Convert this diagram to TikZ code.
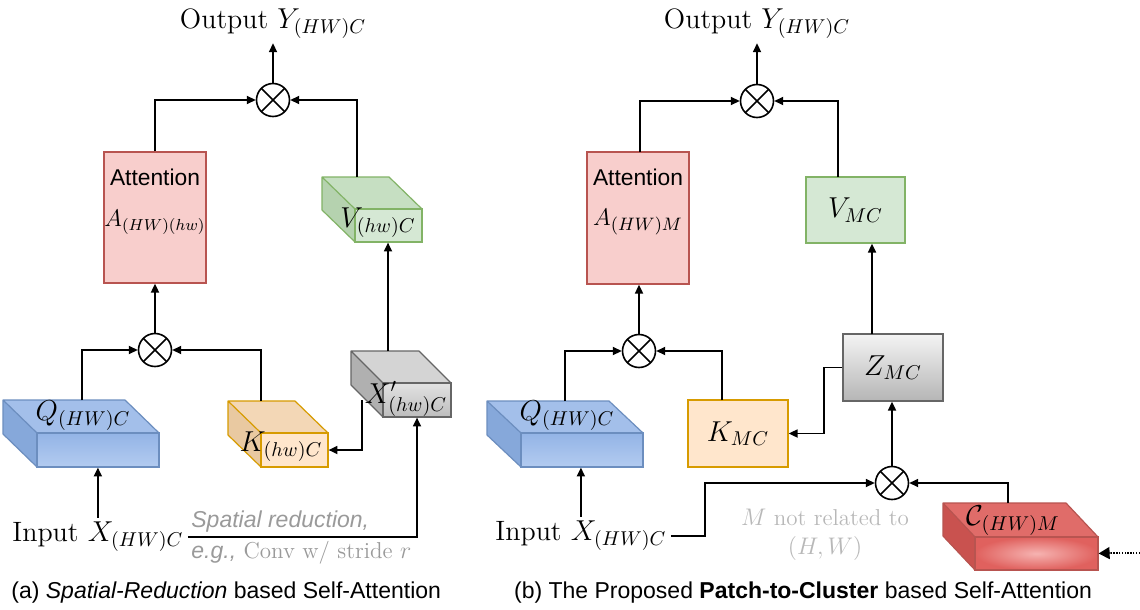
\documentclass[tikz,border=0pt]{standalone}
\usepackage{fontspec}
\newfontfamily\hv{Liberation Sans}
\usetikzlibrary{arrows.meta,fit,calc}

\definecolor{attF}{HTML}{F8CECC}
\definecolor{attL}{HTML}{B85450}
\definecolor{grnF}{HTML}{D5E8D4}
\definecolor{grnT}{HTML}{C6DFC2}
\definecolor{grnS}{HTML}{B5D2AF}
\definecolor{grnL}{HTML}{82B366}
\definecolor{orgF}{HTML}{FFE6CC}
\definecolor{orgT}{HTML}{F3D7B6}
\definecolor{orgS}{HTML}{E9C9A1}
\definecolor{orgL}{HTML}{D79B00}
\definecolor{bluT}{HTML}{A3BFEA}
\definecolor{bluS}{HTML}{86A8DA}
\definecolor{bluA}{HTML}{93B4E6}
\definecolor{bluB}{HTML}{B3CBF0}
\definecolor{bluL}{HTML}{6C8EBF}
\definecolor{gryT}{HTML}{D4D4D4}
\definecolor{gryS}{HTML}{B0B0B0}
\definecolor{gryA}{HTML}{E2E2E2}
\definecolor{gryB}{HTML}{BDBDBD}
\definecolor{gryL}{HTML}{666666}
\definecolor{zA}{HTML}{F4F4F4}
\definecolor{zB}{HTML}{B5B5B5}
\definecolor{redT}{HTML}{E06C69}
\definecolor{redS}{HTML}{C9524F}
\definecolor{redA}{HTML}{F6B3B1}
\definecolor{redB}{HTML}{E0615E}
\definecolor{redL}{HTML}{B85450}
\definecolor{txtG}{HTML}{9A9A9A}
\definecolor{txtLG}{HTML}{B8B8B8}

\newcommand{\drawcube}[8]{%
  \fill[#8top] ({#2-#6},{#3-#7}) -- ({#4-#6},{#3-#7}) -- (#4,#3) -- (#2,#3) -- cycle;
  \fill[#8side] ({#2-#6},{#3-#7}) -- (#2,#3) -- (#2,#5) -- ({#2-#6},{#5-#7}) -- cycle;
  \coordinate (#1nw) at (#2,#3);
  \coordinate (#1se) at (#4,#5);
  \node[fit=(#1nw)(#1se), inner sep=0pt, #8front] (#1) {};
  \draw[#8line, line join=round] ({#2-#6},{#5-#7}) -- ({#2-#6},{#3-#7}) -- ({#4-#6},{#3-#7}) -- (#4,#3)
        (#2,#3) -- ({#2-#6},{#3-#7}) ({#2-#6},{#5-#7}) -- (#2,#5);
}

\tikzset{
  conn/.style={line width=0.85pt, -{Triangle[length=4.4pt,width=4pt]}},
  otimes/.style={circle, draw, line width=0.8pt, minimum size=16.5pt, inner sep=0pt, fill=white,
    path picture={\draw[line width=0.8pt] (path picture bounding box.north west) -- (path picture bounding box.south east)
      (path picture bounding box.north east) -- (path picture bounding box.south west);}},
  bigtxt/.style={font=\fontsize{14}{16}\selectfont, inner sep=2pt},
  mathlbl/.style={font=\fontsize{14}{16}\selectfont, inner sep=0pt},
  sanslbl/.style={font=\hv\fontsize{11.4}{13}\selectfont, inner sep=0pt},
  graytxt/.style={text=txtG, font=\fontsize{11.5}{13}\selectfont, inner sep=0pt},
  lgraytxt/.style={text=txtLG, font=\fontsize{11.5}{13}\selectfont, inner sep=0pt},
  captxt/.style={font=\hv\fontsize{11.5}{13}\selectfont, inner sep=0pt},
  attbox/.style={draw=attL, fill=attF, line width=0.75pt},
  vbox/.style={draw=grnL, fill=grnF, line width=0.75pt, font=\fontsize{14}{16}\selectfont},
  kbox/.style={draw=orgL, fill=orgF, line width=0.75pt, font=\fontsize{14}{16}\selectfont},
  zbox/.style={draw=gryL, top color=zA, bottom color=zB, line width=0.75pt, font=\fontsize{14}{16}\selectfont},
  vtop/.style={fill=grnT}, vside/.style={fill=grnS}, vfront/.style={draw=grnL, fill=grnF, line width=0.6pt}, vline/.style={draw=grnL, line width=0.6pt},
  ktop/.style={fill=orgT}, kside/.style={fill=orgS}, kfront/.style={draw=orgL, fill=orgF, line width=0.6pt}, kline/.style={draw=orgL, line width=0.6pt},
  qtop/.style={fill=bluT}, qside/.style={fill=bluS}, qfront/.style={draw=bluL, top color=bluA, bottom color=bluB, line width=0.6pt}, qline/.style={draw=bluL, line width=0.6pt},
  xtop/.style={fill=gryT}, xside/.style={fill=gryS}, xfront/.style={draw=gryL, top color=gryA, bottom color=gryB, line width=0.6pt}, xline/.style={draw=gryL, line width=0.6pt},
  ctop/.style={fill=redT}, cside/.style={fill=redS}, cfront/.style={draw=redL, inner color=redA, outer color=redB, line width=0.6pt}, cline/.style={draw=redL, line width=0.6pt},
  dotline/.style={line width=0.7pt, dash pattern=on 0.7pt off 0.7pt},
  bigtip/.style={-{Triangle[length=5.5pt,width=6pt]}, line width=0.7pt},
}

\begin{document}
\begin{tikzpicture}[x=0.5pt,y=-0.5pt]
\useasboundingbox (0,0) rectangle (1140,610);
\fill[white] (0,0) rectangle (1140,610);

% ---------------- left panel ----------------
\node[otimes] (m1) at (273,100) {};
\node[bigtxt] (outL) at (273,24) {Output $Y_{(HW)C}$};

\node[attbox, minimum width=51pt, minimum height=65.5pt, inner sep=0pt] (attLb) at (155,217.5) {};
\node[sanslbl] (attLt) at (155,177) {Attention};
\node[mathlbl, font=\fontsize{12}{14}\selectfont] (attLa) at (155,222) {$A_{(HW)(hw)}$};

\drawcube{V}{355}{209}{422}{242}{33}{32}{v}
\node[mathlbl] (Vl) at (378,223) {$V_{(hw)C}$};
\coordinate (Vt) at (357,177);

\drawcube{X}{383}{383}{451}{417}{32}{32}{x}
\node[mathlbl] (Xl) at (406,399) {$X'_{(hw)C}$};
\coordinate (Xt) at (388,351);
\coordinate (Xs) at (362,400);

\drawcube{K}{261}{433}{328}{467}{33}{32}{k}
\node[mathlbl] (Kl) at (281,447) {$K_{(hw)C}$};
\coordinate (Kt) at (261,401);

\node[otimes] (m2) at (155,350) {};

\drawcube{Q}{37}{433}{159}{467}{34}{33}{q}
\node[mathlbl] (Ql) at (83,416) {$Q_{(HW)C}$};
\coordinate (Qt) at (82,400);

\node[bigtxt, anchor=west] (inL) at (8,537) {Input $X_{(HW)C}$};

\node[graytxt, anchor=west] (srA) at (191,522) {\hv\itshape Spatial reduction,};
\node[graytxt, anchor=west] (srB) at (191,553) {{\hv\itshape e.g.,} Conv w/ stride $r$};

\node[captxt, anchor=west] (capA) at (11,593) {(a) \textit{Spatial-Reduction} based Self-Attention};

\draw[conn] (m1) -- (outL);
\draw[conn] (attLb.north) |- (m1.west);
\draw[conn] (Vt) |- (m1.east);
\draw[conn] (m2) -- (attLb);
\draw[conn] (Qt) |- (m2.west);
\draw[conn] (Kt) |- (m2.east);
\draw[conn] (Xt) -- (Xt |- V.south);
\draw[conn] (Xs) |- (K.east);
\draw[conn] (inL.east) -| (X.south);
\draw[conn] (inL.north) -- (inL.north |- Q.south);

% ---------------- right panel ----------------
\node[otimes] (m3) at (757,101) {};
\node[bigtxt] (outR) at (757,24) {Output $Y_{(HW)C}$};

\node[attbox, minimum width=51pt, minimum height=66pt, inner sep=0pt] (attRb) at (638,218) {};
\node[sanslbl] (attRt) at (638,177) {Attention};
\node[mathlbl, font=\fontsize{12.5}{14}\selectfont] (attRa) at (638,222) {$A_{(HW)M}$};
\coordinate (attRtop) at (640,152);

\node[vbox, minimum width=49.5pt, minimum height=33pt, inner sep=0pt] (Vm) at (855.5,210) {$V_{MC}$};
\coordinate (Vmt) at (838,177);

\node[zbox, minimum width=50pt, minimum height=33.5pt, inner sep=0pt] (Zm) at (893,367.5) {$Z_{MC}$};
\coordinate (Zmt) at (872,334);
\coordinate (bendZ) at (824,433);

\node[kbox, minimum width=50pt, minimum height=33.5pt, inner sep=0pt] (Km) at (738,433.5) {$K_{MC}$};
\coordinate (Kmt) at (722,400);

\node[otimes] (m4) at (639,351) {};

\drawcube{QR}{521}{433}{643}{467}{34}{32}{q}
\node[mathlbl] (QRl) at (567,416) {$Q_{(HW)C}$};
\coordinate (QRt) at (565,401);

\node[bigtxt, anchor=west] (inR) at (491,536) {Input $X_{(HW)C}$};
\coordinate (bendI) at (705,536);

\node[otimes] (m5) at (892,483) {};

\drawcube{C}{975}{537}{1098}{570}{32}{34}{c}
\node[mathlbl] (Cl) at (1013,521) {$\mathcal{C}_{(HW)M}$};
\coordinate (Ct) at (1008,503);
\coordinate (dotsrc) at (1140,553);
\coordinate (dotend) at (1111,553);

\node[lgraytxt] (mnr) at (825,517) {$M$ not related to};
\node[lgraytxt] (hwt) at (825,548) {$(H,W)$};

\node[captxt] (capB) at (803,593) {(b) The Proposed \textbf{Patch-to-Cluster} based Self-Attention};

\draw[conn] (m3) -- (outR);
\draw[conn] (attRtop) |- (m3.west);
\draw[conn] (Vmt) |- (m3.east);
\draw[conn] (m4.north) -- (m4.north |- attRb.south);
\draw[conn] (QRt) |- (m4.west);
\draw[conn] (Kmt) |- (m4.east);
\draw[conn] (Zmt) -- (Zmt |- Vm.south);
\draw[conn] (Zm.west) -| (bendZ) |- (Km.east);
\draw[conn] (m5.north) -- (m5.north |- Zm.south);
\draw[conn] (inR.east) -- (bendI) |- (m5.west);
\draw[conn] (Ct) |- (m5.east);
\draw[dotline] (dotsrc) -- (dotend);
\draw[bigtip] (dotend) -- (C.east);
\draw[conn] (inR.north) -- (inR.north |- QR.south);
\end{tikzpicture}
\end{document}
